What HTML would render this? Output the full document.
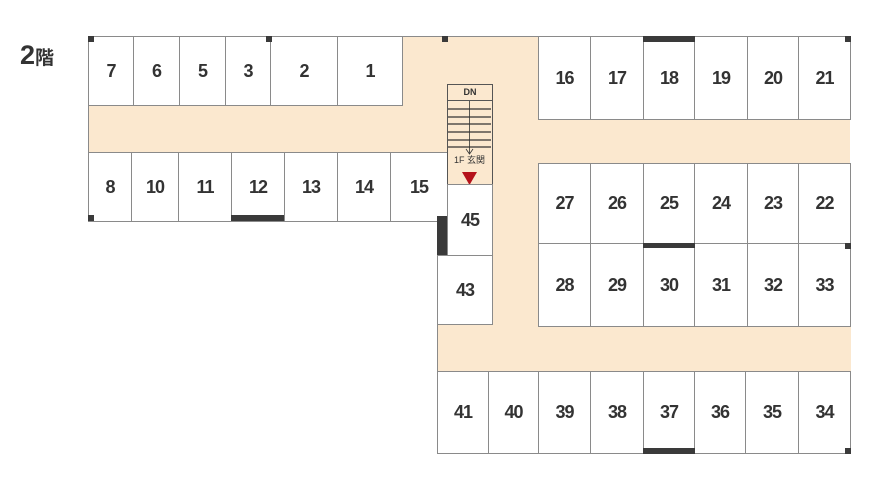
<!DOCTYPE html>
<html><head><meta charset="utf-8"><style>
body{margin:0;width:869px;height:490px;background:#fff;position:relative;overflow:hidden;font-family:"Liberation Sans","Noto Sans CJK JP",sans-serif}
.c{position:absolute;background:#fbe8cf}
.r{position:absolute;background:#fff;border:1.5px solid #8a8a8a;box-sizing:border-box;display:flex;align-items:center;justify-content:center;font-weight:bold;font-size:18px;color:#333;letter-spacing:-1px}
.d{position:absolute;background:#3a3a3a}
</style></head><body>
<div style="position:absolute;left:20px;top:40px;font-weight:bold;font-size:27px;color:#333">2<span style="font-size:19px">階</span></div>
<div class="c" style="left:88px;top:36px;width:359px;height:185px;border:1.5px solid #8a8a8a;box-sizing:border-box"></div>
<div class="c" style="left:402px;top:36px;width:448px;height:184px;border-top:1.5px solid #8a8a8a"></div>
<div class="c" style="left:437px;top:219px;width:413px;height:234px;border-left:1.5px solid #8a8a8a"></div>
<div style="position:absolute;left:437px;top:452px;width:413px;height:1.5px;background:#8a8a8a"></div>
<!-- top-left row -->
<div class="r" style="left:88px;top:36px;width:46px;height:70px">7</div>
<div class="r" style="left:133px;top:36px;width:47px;height:70px">6</div>
<div class="r" style="left:179px;top:36px;width:47px;height:70px">5</div>
<div class="r" style="left:225px;top:36px;width:46px;height:70px">3</div>
<div class="r" style="left:270px;top:36px;width:68px;height:70px">2</div>
<div class="r" style="left:337px;top:36px;width:66px;height:70px">1</div>
<!-- bottom-left row -->
<div class="r" style="left:88px;top:152px;width:44px;height:70px">8</div>
<div class="r" style="left:131px;top:152px;width:48px;height:70px">10</div>
<div class="r" style="left:178px;top:152px;width:54px;height:70px">11</div>
<div class="r" style="left:231px;top:152px;width:54px;height:70px">12</div>
<div class="r" style="left:284px;top:152px;width:54px;height:70px">13</div>
<div class="r" style="left:337px;top:152px;width:54px;height:70px">14</div>
<div class="r" style="left:390px;top:152px;width:58px;height:70px">15</div>
<!-- stairs -->
<div style="position:absolute;left:447px;top:84px;width:46px;height:101px;border:1.5px solid #555;box-sizing:border-box;background:#fbe8cf">
<div style="text-align:center;font-size:9px;font-weight:bold;color:#333;height:15px;line-height:15px;border-bottom:1.5px solid #555">DN</div>
<svg width="43" height="84" style="position:absolute;left:0;top:16px">
<g stroke="#333" stroke-width="1.3"><line x1="0" y1="8" x2="43" y2="8"/><line x1="0" y1="16" x2="43" y2="16"/><line x1="0" y1="23" x2="43" y2="23"/><line x1="0" y1="31" x2="43" y2="31"/><line x1="0" y1="39" x2="43" y2="39"/><line x1="0" y1="46" x2="43" y2="46"/>
<line x1="21.5" y1="0" x2="21.5" y2="53" stroke-width="0.8"/><polyline points="18,48 21.5,53 25,48" fill="none" stroke-width="0.8"/></g>
<text x="21.5" y="62" font-size="9" text-anchor="middle" fill="#333" font-family="Liberation Sans,Noto Sans CJK JP,sans-serif">1F 玄関</text>
<polygon points="14,71 29,71 21.5,84" fill="#b5121b"/></svg>
</div>
<div class="r" style="left:447px;top:184px;width:46px;height:72px">45</div>
<div class="r" style="left:437px;top:255px;width:56px;height:70px">43</div>
<!-- right top -->
<div class="r" style="left:538px;top:36px;width:53px;height:84px">16</div>
<div class="r" style="left:590px;top:36px;width:54px;height:84px">17</div>
<div class="r" style="left:643px;top:36px;width:52px;height:84px">18</div>
<div class="r" style="left:694px;top:36px;width:54px;height:84px">19</div>
<div class="r" style="left:747px;top:36px;width:52px;height:84px">20</div>
<div class="r" style="left:798px;top:36px;width:53px;height:84px">21</div>
<!-- middle -->
<div class="r" style="left:538px;top:163px;width:53px;height:81px">27</div>
<div class="r" style="left:590px;top:163px;width:54px;height:81px">26</div>
<div class="r" style="left:643px;top:163px;width:52px;height:81px">25</div>
<div class="r" style="left:694px;top:163px;width:54px;height:81px">24</div>
<div class="r" style="left:747px;top:163px;width:52px;height:81px">23</div>
<div class="r" style="left:798px;top:163px;width:53px;height:81px">22</div>
<div class="r" style="left:538px;top:243px;width:53px;height:84px">28</div>
<div class="r" style="left:590px;top:243px;width:54px;height:84px">29</div>
<div class="r" style="left:643px;top:243px;width:52px;height:84px">30</div>
<div class="r" style="left:694px;top:243px;width:54px;height:84px">31</div>
<div class="r" style="left:747px;top:243px;width:52px;height:84px">32</div>
<div class="r" style="left:798px;top:243px;width:53px;height:84px">33</div>
<!-- bottom -->
<div class="r" style="left:437px;top:371px;width:52px;height:83px">41</div>
<div class="r" style="left:488px;top:371px;width:51px;height:83px">40</div>
<div class="r" style="left:538px;top:371px;width:53px;height:83px">39</div>
<div class="r" style="left:590px;top:371px;width:54px;height:83px">38</div>
<div class="r" style="left:643px;top:371px;width:52px;height:83px">37</div>
<div class="r" style="left:694px;top:371px;width:52px;height:83px">36</div>
<div class="r" style="left:745px;top:371px;width:54px;height:83px">35</div>
<div class="r" style="left:798px;top:371px;width:53px;height:83px">34</div>
<!-- dark walls -->
<div class="d" style="left:88px;top:36px;width:6px;height:6px"></div>
<div class="d" style="left:266px;top:36px;width:6px;height:6px"></div>
<div class="d" style="left:442px;top:36px;width:6px;height:6px"></div>
<div class="d" style="left:88px;top:215px;width:6px;height:6px"></div>
<div class="d" style="left:231px;top:215px;width:53px;height:6px"></div>
<div class="d" style="left:437px;top:216px;width:10px;height:39px"></div>
<div class="d" style="left:643px;top:36px;width:52px;height:6px"></div>
<div class="d" style="left:643px;top:243px;width:52px;height:5px"></div>
<div class="d" style="left:643px;top:448px;width:52px;height:6px"></div>
<div class="d" style="left:845px;top:36px;width:6px;height:6px"></div>
<div class="d" style="left:845px;top:243px;width:6px;height:6px"></div>
<div class="d" style="left:845px;top:448px;width:6px;height:6px"></div>
</body></html>
